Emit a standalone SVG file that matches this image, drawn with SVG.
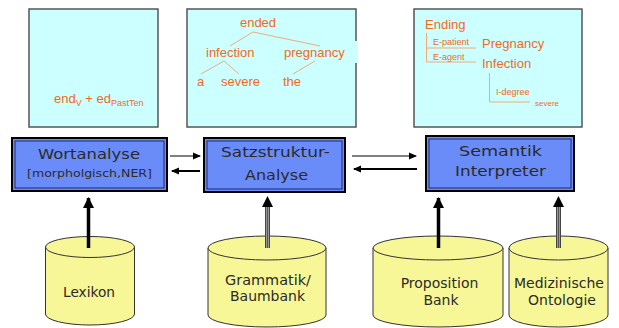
<svg xmlns="http://www.w3.org/2000/svg" width="619" height="328" viewBox="0 0 619 328">
  <defs>
    <marker id="headThin" markerWidth="8" markerHeight="8" refX="7" refY="4" orient="auto" markerUnits="userSpaceOnUse">
      <path d="M0,0.5 L8,4 L0,7.5 Z" fill="#000"/>
    </marker>
    <marker id="headBig" markerWidth="12" markerHeight="12" refX="10" refY="6" orient="auto" markerUnits="userSpaceOnUse">
      <path d="M0,0.5 L11,6 L0,11.5 Z" fill="#000"/>
    </marker>
  </defs>
  <style>
    .panel { fill: #ccffff; stroke: #555; stroke-width: 1.5; }
    .tx { font-family: "Liberation Sans", Arial, sans-serif; fill: #f26a1b; }
    .tl { stroke: #f5a878; stroke-width: 1; fill: none; }
    .box { fill: #6a8cf8; stroke: #000; stroke-width: 2; }
    .boxin { fill: none; stroke: #1a2a6a; stroke-width: 1; }
    .bt { font-family: "DejaVu Sans", Verdana, sans-serif; fill: #2a2a2a; text-anchor: middle; }
    .cyl { fill: #f7f797; stroke: #333; stroke-width: 1; }
    .ct { font-family: "DejaVu Sans", Verdana, sans-serif; fill: #2a2a2a; text-anchor: middle; font-size: 14px; }
    .thin { stroke: #000; stroke-width: 1; fill: none; }
    .thick { stroke: #000; stroke-width: 2; fill: none; }
    .solid { stroke: #000; stroke-width: 3.5; fill: none; }
  </style>

  <!-- upper illustration panels -->
  <g id="panel-morph">
    <rect class="panel" x="29" y="9" width="129" height="118"/>
    <text class="tx" x="54" y="103" font-size="13">end<tspan font-size="9" dy="3">V</tspan><tspan dy="-3"> + ed</tspan><tspan font-size="9" dy="3">PastTen</tspan></text>
  </g>

  <g id="panel-tree">
    <rect class="panel" x="187" y="9" width="169" height="118"/>
    <rect x="350" y="41" width="8" height="22" fill="#ccffff"/>
    <line class="tl" x1="253" y1="32" x2="230" y2="46"/>
    <line class="tl" x1="253" y1="32" x2="320" y2="46"/>
    <line class="tl" x1="224" y1="61" x2="201" y2="74"/>
    <line class="tl" x1="224" y1="61" x2="239" y2="74"/>
    <line class="tl" x1="315" y1="61" x2="293" y2="74"/>
    <g class="tx" font-size="13">
      <text x="258" y="27" text-anchor="middle">ended</text>
      <text x="206" y="57">infection</text>
      <text x="284" y="57">pregnancy</text>
      <text x="197" y="86">a</text>
      <text x="221" y="86">severe</text>
      <text x="283" y="86">the</text>
    </g>
  </g>

  <g id="panel-semantic">
    <rect class="panel" x="414" y="9" width="168" height="118"/>
    <path class="tl" d="M426.5,33 V62 H476 M426.5,48 H476"/>
    <path class="tl" d="M489.5,73 V102 H530"/>
    <g class="tx">
      <text x="425" y="29" font-size="13">Ending</text>
      <text x="433" y="45" font-size="9">E-patient</text>
      <text x="433" y="60" font-size="9">E-agent</text>
      <text x="482" y="48" font-size="13">Pregnancy</text>
      <text x="482" y="68" font-size="13">Infection</text>
      <text x="496" y="95" font-size="9">I-degree</text>
      <text x="535" y="105.5" font-size="8">severe</text>
    </g>
  </g>

  <!-- processing modules -->
  <g id="wortanalyse">
    <rect class="box" x="12" y="138" width="155" height="53"/>
    <rect class="boxin" x="15" y="141" width="149" height="47"/>
    <text class="bt" x="89" y="159" font-size="14.5" textLength="102" lengthAdjust="spacingAndGlyphs">Wortanalyse</text>
    <text class="bt" x="89.5" y="177" font-size="11" textLength="125" lengthAdjust="spacingAndGlyphs">[morpholgisch,NER]</text>
  </g>

  <g id="satzstruktur">
    <rect class="box" x="204" y="138" width="141" height="54"/>
    <rect class="boxin" x="207" y="141" width="135" height="48"/>
    <text class="bt" x="275.5" y="157" font-size="14.5" textLength="109" lengthAdjust="spacingAndGlyphs">Satzstruktur-</text>
    <text class="bt" x="276.5" y="180" font-size="14.5" textLength="63" lengthAdjust="spacingAndGlyphs">Analyse</text>
  </g>

  <g id="semantik">
    <rect class="box" x="426" y="136" width="148" height="55"/>
    <rect class="boxin" x="429" y="139" width="142" height="49"/>
    <text class="bt" x="500.5" y="156" font-size="14.5" textLength="83" lengthAdjust="spacingAndGlyphs">Semantik</text>
    <text class="bt" x="500.5" y="176" font-size="14.5" textLength="91" lengthAdjust="spacingAndGlyphs">Interpreter</text>
  </g>

  <!-- knowledge sources -->
  <g id="lexikon">
    <path class="cyl" d="M45.5,247 V314 A44.5,11 0 0 0 134.5,314 V247"/>
    <ellipse class="cyl" cx="90" cy="247" rx="44.5" ry="10.5"/>
    <text class="ct" x="89" y="297" textLength="52" lengthAdjust="spacingAndGlyphs">Lexikon</text>
  </g>

  <g id="grammatik">
    <path class="cyl" d="M208,248 V315 A59,12 0 0 0 326,315 V248"/>
    <ellipse class="cyl" cx="267" cy="248" rx="59" ry="12"/>
    <text class="ct" x="268" y="285" textLength="86" lengthAdjust="spacingAndGlyphs">Grammatik/</text>
    <text class="ct" x="267.5" y="301" textLength="75" lengthAdjust="spacingAndGlyphs">Baumbank</text>
  </g>

  <g id="proposition">
    <path class="cyl" d="M373,248 V315 A65,12 0 0 0 503,315 V248"/>
    <ellipse class="cyl" cx="438" cy="248" rx="65" ry="12"/>
    <text class="ct" x="439.5" y="288">Proposition</text>
    <text class="ct" x="441" y="305">Bank</text>
  </g>

  <g id="ontologie">
    <path class="cyl" d="M509,248 V315 A49.5,12 0 0 0 608,315 V248"/>
    <ellipse class="cyl" cx="558.5" cy="248" rx="49.5" ry="12"/>
    <text class="ct" x="559" y="288" font-size="13.5">Medizinische</text>
    <text class="ct" x="562" y="305" font-size="13.5">Ontologie</text>
  </g>

  <!-- connectors -->
  <g id="connectors">
    <line class="thin" x1="170" y1="156" x2="200" y2="156" marker-end="url(#headThin)"/>
    <line class="thick" x1="200" y1="171" x2="172" y2="171" marker-end="url(#headThin)"/>
    <line class="thin" x1="352" y1="156" x2="416" y2="156" marker-end="url(#headThin)"/>
    <line class="thick" x1="417" y1="169" x2="354" y2="169" marker-end="url(#headThin)"/>

    <line class="solid" x1="88.5" y1="248" x2="88.5" y2="198" marker-end="url(#headBig)"/>
    <line class="solid" x1="438.5" y1="248" x2="438.5" y2="198" marker-end="url(#headBig)"/>

    <!-- hollow striped arrows -->
    <g>
      <rect x="265" y="205" width="5" height="43" fill="#999"/>
      <line x1="265.5" y1="205" x2="265.5" y2="248" stroke="#444" stroke-width="1"/>
      <line x1="267.5" y1="205" x2="267.5" y2="248" stroke="#555" stroke-width="1"/>
      <line x1="269.5" y1="205" x2="269.5" y2="248" stroke="#444" stroke-width="1"/>
      <path d="M262,207 L267.5,196 L273,207 Z" fill="#000"/>
    </g>
    <g>
      <rect x="556" y="205" width="5" height="43" fill="#999"/>
      <line x1="556.5" y1="205" x2="556.5" y2="248" stroke="#444" stroke-width="1"/>
      <line x1="558.5" y1="205" x2="558.5" y2="248" stroke="#555" stroke-width="1"/>
      <line x1="560.5" y1="205" x2="560.5" y2="248" stroke="#444" stroke-width="1"/>
      <path d="M553,207 L558.5,196 L564,207 Z" fill="#000"/>
    </g>
  </g>
</svg>
